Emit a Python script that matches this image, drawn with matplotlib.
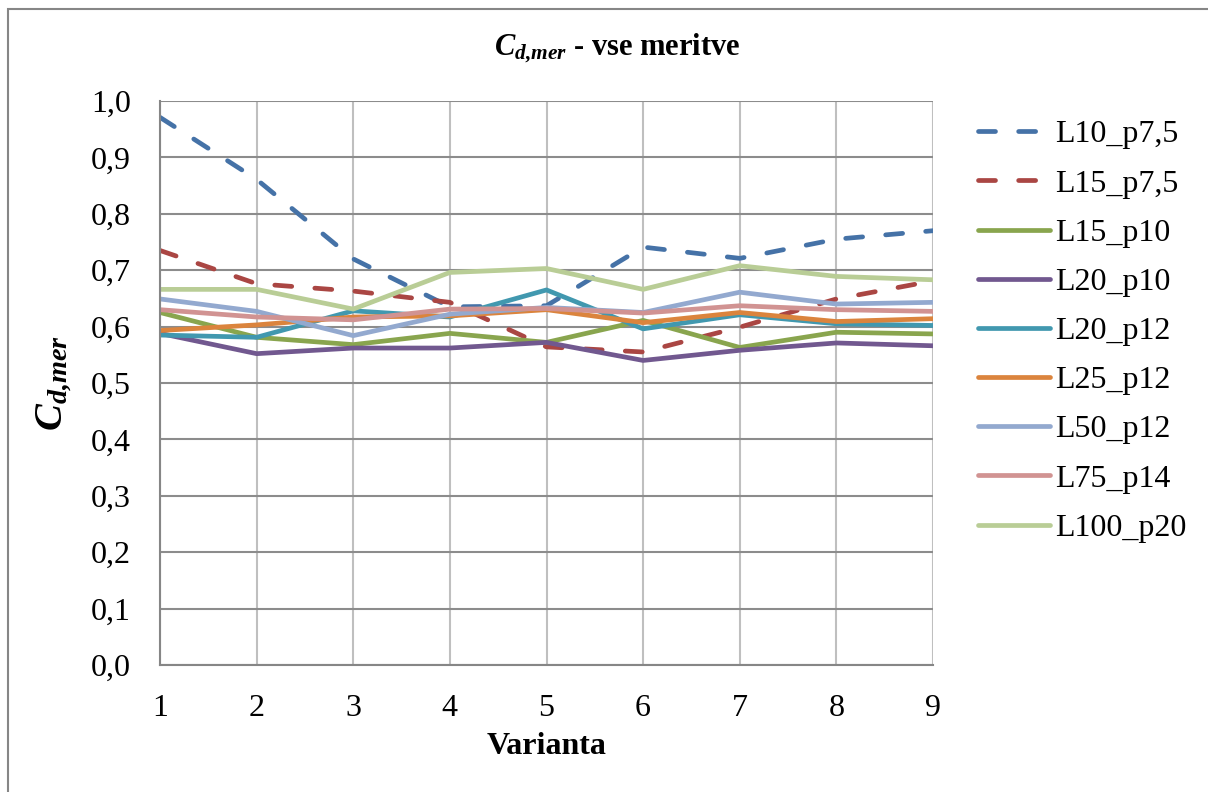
import matplotlib
matplotlib.use("Agg")
import matplotlib.pyplot as plt
from matplotlib.patches import Rectangle

plt.rcParams["font.family"] = "Liberation Serif"
plt.rcParams["mathtext.fontset"] = "custom"
plt.rcParams["mathtext.rm"] = "Liberation Serif"
plt.rcParams["mathtext.it"] = "Liberation Serif:italic"
plt.rcParams["mathtext.bf"] = "Liberation Serif:bold"
plt.rcParams["mathtext.bfit"] = "Liberation Serif:italic:bold"

# varianta 1..9
varianta = [1, 2, 3, 4, 5, 6, 7, 8, 9]

L10_p7_5 = [0.971, 0.861, 0.720, 0.635, 0.637, 0.741, 0.721, 0.755, 0.770]
L15_p7_5 = [0.735, 0.676, 0.663, 0.643, 0.564, 0.555, 0.599, 0.649, 0.681]
L15_p10 = [0.625, 0.581, 0.568, 0.588, 0.572, 0.611, 0.563, 0.590, 0.587]
L20_p10 = [0.588, 0.552, 0.562, 0.562, 0.572, 0.540, 0.558, 0.571, 0.566]
L20_p12 = [0.585, 0.581, 0.628, 0.617, 0.665, 0.596, 0.621, 0.605, 0.602]
L25_p12 = [0.593, 0.603, 0.617, 0.619, 0.630, 0.607, 0.625, 0.609, 0.614]
L50_p12 = [0.649, 0.627, 0.584, 0.622, 0.634, 0.625, 0.661, 0.640, 0.643]
L75_p14 = [0.630, 0.617, 0.612, 0.631, 0.632, 0.624, 0.637, 0.630, 0.627]
L100_p20 = [0.666, 0.666, 0.631, 0.696, 0.703, 0.666, 0.708, 0.689, 0.683]

series = [
    ("L10_p7,5", L10_p7_5, "#4572A7", True),
    ("L15_p7,5", L15_p7_5, "#AA4643", True),
    ("L15_p10", L15_p10, "#89A54E", False),
    ("L20_p10", L20_p10, "#71588F", False),
    ("L20_p12", L20_p12, "#4198AF", False),
    ("L25_p12", L25_p12, "#DB843D", False),
    ("L50_p12", L50_p12, "#93A9CF", False),
    ("L75_p14", L75_p14, "#D19392", False),
    ("L100_p20", L100_p20, "#B9CD96", False),
]

fig = plt.figure(figsize=(12.08, 7.92), dpi=100)
ax = fig.add_axes([160 / 1208, 1 - 665 / 792, 773 / 1208, 564 / 792])

for name, vals, col, dashed in series:
    if dashed:
        ax.plot(varianta, vals, color=col, lw=3.4, label=name,
                linestyle=(0, (3.6, 4.9)), dash_capstyle="round", solid_capstyle="round")
    else:
        ax.plot(varianta, vals, color=col, lw=3.4, label=name, solid_capstyle="round")

ax.set_xlim(1, 9)
ax.set_ylim(0, 1.0)
ax.set_xticks(varianta)
ax.set_yticks([i / 10 for i in range(11)])
ax.set_yticklabels([f"{i / 10:.1f}".replace(".", ",") for i in range(11)])
ax.tick_params(length=0, labelsize=23)
ax.tick_params(axis="x", pad=21)
ax.tick_params(axis="y", pad=21)
ax.grid(axis="x", color="#BFBFBF", lw=1.5)
ax.grid(axis="y", color="#8C8C8C", lw=1.5)
ax.set_axisbelow(True)
for s in ["top", "right"]:
    ax.spines[s].set_visible(False)
for s in ["left", "bottom"]:
    ax.spines[s].set_color("#868686")
    ax.spines[s].set_linewidth(1.5)

ax.set_xlabel("Varianta", fontsize=23, fontweight="bold", labelpad=6)
ax.set_ylabel(r"$\mathbfit{C}_{\mathbfit{d{,}mer}}$", fontsize=29, labelpad=12)

fig.text(0.511, 0.939, r"$\mathbfit{C}_{\mathbfit{d{,}mer}}$ - vse meritve",
         fontsize=22, fontweight="bold", ha="center", va="center")

ax.legend(loc="upper left", bbox_to_anchor=(978 / 1208, 1 - 120 / 792),
          bbox_transform=fig.transFigure, frameon=False,
          fontsize=23, handlelength=2.25, handletextpad=0.15, labelspacing=0.62,
          borderaxespad=0, borderpad=0)

fig.patches.append(Rectangle((8 / 1208, -0.01), 1.02, 1 - 9 / 792 + 0.01,
                             transform=fig.transFigure, fill=False,
                             edgecolor="#868686", lw=1.5))

fig.savefig("out.png", dpi=100)
